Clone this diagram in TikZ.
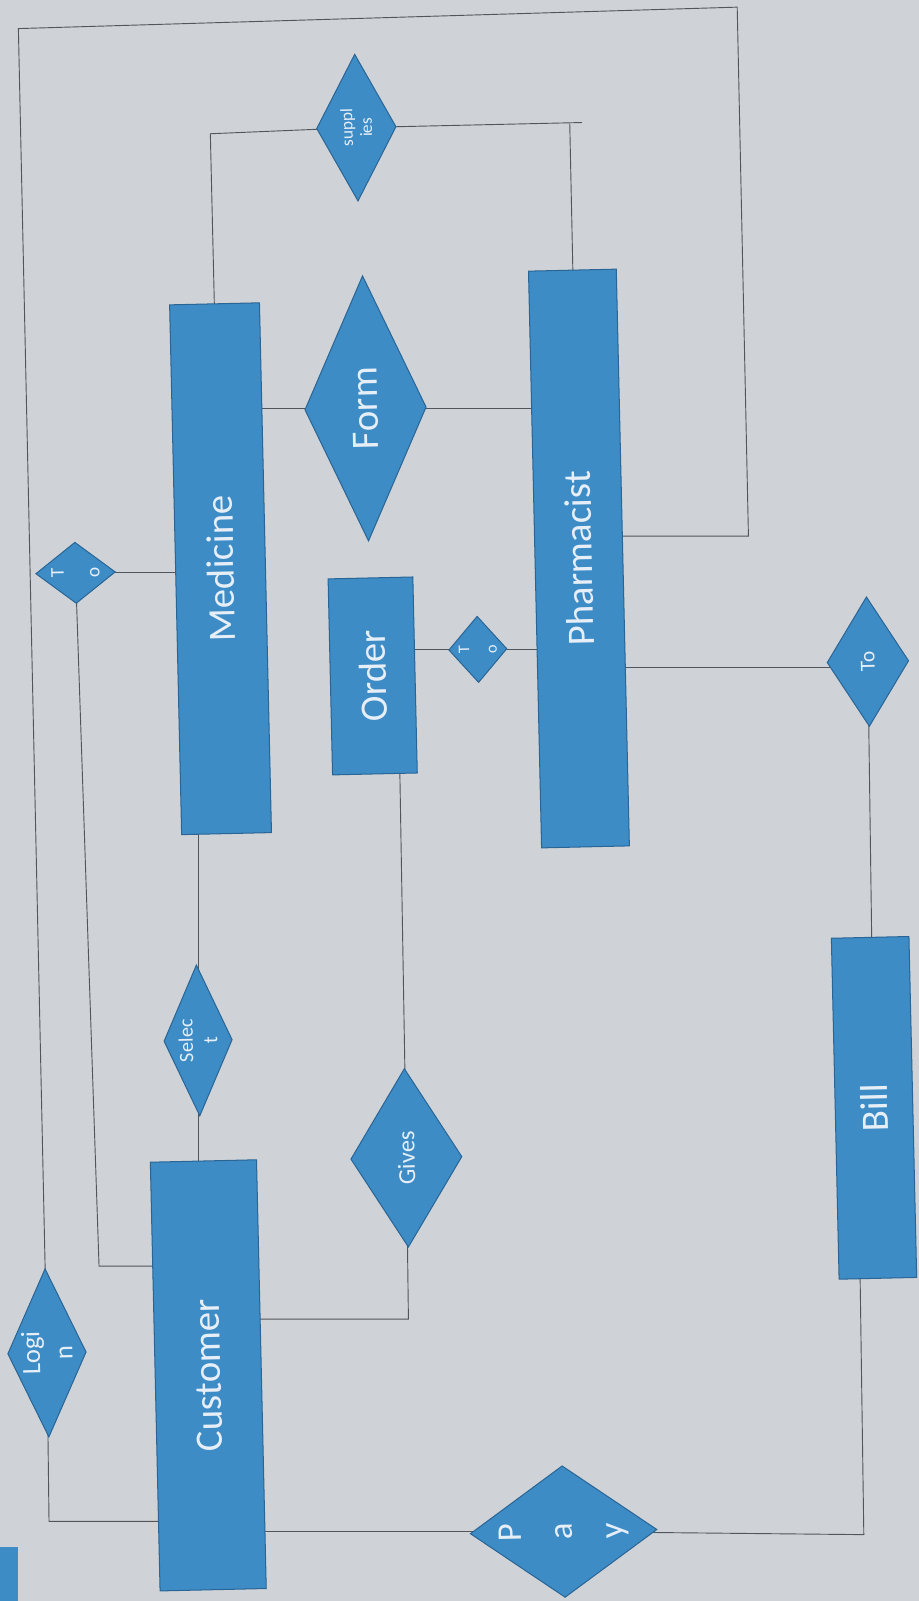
\documentclass[tikz,border=0pt]{standalone}
\usepackage{fontspec}
\setmainfont{Carlito}
\usetikzlibrary{shapes.geometric,backgrounds}
\definecolor{bgc}{HTML}{CFD3D7}
\definecolor{boxblue}{HTML}{3D8CC6}
\definecolor{edgeblue}{HTML}{2A6596}
\definecolor{wirec}{HTML}{50565C}
\definecolor{txt}{HTML}{E6EEF7}
\begin{document}
\begin{tikzpicture}[x=1pt,y=-1pt,
  ent/.style={rectangle,fill=boxblue,draw=edgeblue,line width=1pt,text=txt,rotate=91.3,inner sep=0pt,font=\fontsize{38}{44}\selectfont},
  rel/.style={diamond,fill=boxblue,draw=edgeblue,line width=1pt,text=txt,rotate=91.3,inner sep=0pt,align=center},
  wire/.style={draw=wirec,line width=0.9pt}]
\useasboundingbox (0,0) rectangle (900,1568);
% entities
\node[ent,minimum width=519pt,minimum height=88pt] (med) at (216,557) {Medicine};
\node[ent,minimum width=420pt,minimum height=104pt] (cust) at (204,1347) {Customer};
\node[ent,minimum width=192pt,minimum height=83pt] (ord) at (365,662) {Order};
\node[ent,minimum width=565pt,minimum height=86pt] (pharm) at (567,547) {Pharmacist};
\node[ent,minimum width=334pt,minimum height=76pt] (bill) at (856,1085) {Bill};
\node[fill=boxblue,minimum width=17pt,minimum height=53pt,inner sep=0pt,anchor=south west] (corner) at (0,1568) {};
% relationships
\node[rel,minimum width=165pt,minimum height=77pt,aspect=2.14,font=\fontsize{26}{32}\selectfont] (login) at (46,1325) {Logi\\n};
\node[rel,minimum width=60pt,minimum height=78pt,aspect=0.77,font=\fontsize{19}{35}\selectfont] (toA) at (74,561) {T\\o};
\node[rel,minimum width=148pt,minimum height=67pt,aspect=2.2,font=\fontsize{20}{24}\selectfont] (sel) at (194,1019) {Selec\\t};
\node[rel,minimum width=175pt,minimum height=109pt,aspect=1.6,font=\fontsize{24}{28}\selectfont] (giv) at (398,1134) {Gives};
\node[rel,minimum width=260pt,minimum height=119pt,aspect=2.18,font=\fontsize{38}{44}\selectfont] (form) at (358,400) {Form};
\node[rel,minimum width=144pt,minimum height=78pt,aspect=1.85,font=\fontsize{17}{19}\selectfont] (sup) at (349,125) {suppl\\ies};
\node[rel,minimum width=65pt,minimum height=57pt,aspect=1.14,font=\fontsize{16}{27}\selectfont] (toB) at (468,636) {T\\o};
\node[rel,minimum width=127pt,minimum height=80pt,aspect=1.59,font=\fontsize{21}{24}\selectfont] (toC) at (850,648) {To};
\node[rel,minimum width=129pt,minimum height=183pt,aspect=0.7,font=\fontsize{34}{50}\selectfont] (pay) at (552,1500) {P\\a\\y};
% connectors
\begin{pgfonlayer}{background}
\fill[bgc] (0,0) rectangle (900,1568);
\coordinate (fTL) at (18,28);
\coordinate (fTR) at (722,7);
\coordinate (fBR) at (733,525);
\draw[wire] (login.center) -- (fTL) -- (fTR) -- (fBR) -- (fBR -| pharm.center);
\coordinate (lgB) at (48,1490);
\draw[wire] (login.center) -- (lgB) -- (lgB -| cust.center);
\coordinate (toAB) at (97,1240);
\draw[wire] (toA.center) -- (toAB) -- (toAB -| cust.center);
\draw[wire] (toA.center) -- (toA.center -| med.center);
\coordinate (medT) at (206,131);
\draw[wire] (med.center) -- (medT) -- (sup.center);
\coordinate (supR) at (570,120);
\coordinate (phT) at (558,121);
\draw[wire] (sup.center) -- (supR);
\draw[wire] (phT) -- (pharm.center);
\draw[wire] (med.center |- form.center) -- (pharm.center |- form.center);
\draw[wire] (sel.center |- med.center) -- (sel.center |- cust.center);
\coordinate (ordB) at (390,662);
\draw[wire] (ordB) -- (giv.center);
\coordinate (givB) at (400,1292);
\draw[wire] (giv.center) -- (givB) -- (givB -| cust.center);
\draw[wire] (ord.center |- toB.center) -- (pharm.center |- toB.center);
\coordinate (toCL) at (830,654);
\draw[wire] (pharm.center |- toCL) -- (toCL);
\draw[wire] (toC.center) -- (bill.center);
\coordinate (billB) at (840,1085);
\coordinate (billP) at (846,1503);
\draw[wire] (billB) -- (billP) -- (pay.center);
\draw[wire] (cust.center |- pay.center) -- (pay.center);
\end{pgfonlayer}
\end{tikzpicture}
\end{document}
